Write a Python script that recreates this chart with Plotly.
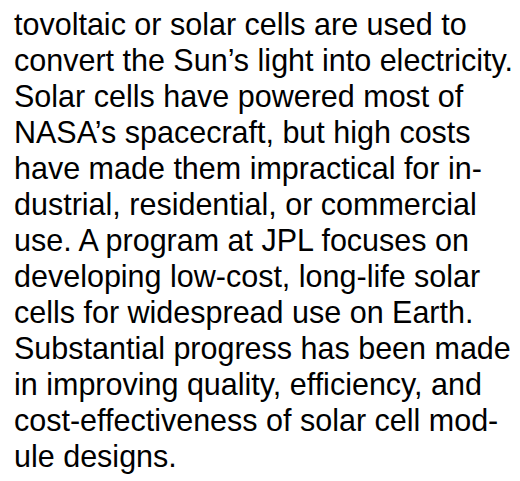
import plotly.graph_objects as go

lines = [
    "tovoltaic or solar cells are used to",
    "convert the Sun\u2019s light into electricity.",
    "Solar cells have powered most of",
    "NASA\u2019s spacecraft, but high costs",
    "have made them impractical for in-",
    "dustrial, residential, or commercial",
    "use. A program at JPL focuses on",
    "developing low-cost, long-life solar",
    "cells for widespread use on Earth.",
    "Substantial progress has been made",
    "in improving quality, efficiency, and",
    "cost-effectiveness of solar cell mod-",
    "ule designs.",
]

W, H = 520, 481
top_center = 16
pitch = 36.0

fig = go.Figure()
for i, t in enumerate(lines):
    yc = top_center + pitch * i
    fig.add_annotation(
        text=t, x=4 / W, y=1 - yc / H, xref="paper", yref="paper",
        xanchor="left", yanchor="middle", showarrow=False,
        font=dict(family="Liberation Sans, Arial, sans-serif", size=30.5, color="#000000"),
    )

fig.update_layout(
    width=W, height=H, margin=dict(l=0, r=0, t=0, b=0),
    paper_bgcolor="white", plot_bgcolor="white",
    xaxis=dict(visible=False), yaxis=dict(visible=False),
    showlegend=False,
)
fig.write_html("out.html")
